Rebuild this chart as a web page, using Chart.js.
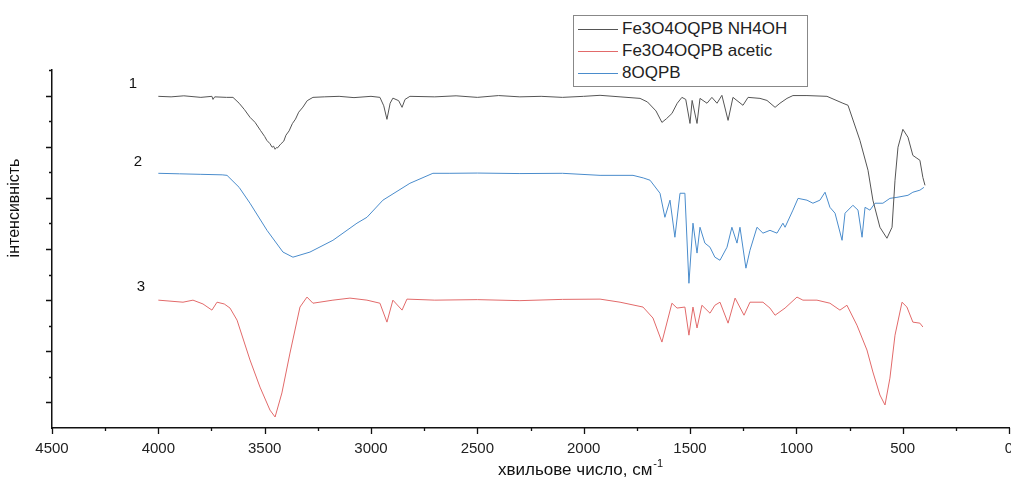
<!DOCTYPE html>
<html>
<head>
<meta charset="utf-8">
<script src="https://cdn.jsdelivr.net/npm/chart.js@4.4.1/dist/chart.umd.min.js"></script>
<style>
  body { margin: 0; background: #fff; }
  #wrap { position: relative; width: 1011px; height: 479px; }
  #legend {
    position: absolute; left: 573px; top: 15px; width: 233px; height: 70px;
    border: 1px solid #888; background: #fff;
    font-family: "Liberation Sans", Arial, sans-serif; font-size: 17px; color: #222;
  }
  .row { position: absolute; left: 0; height: 22px; line-height: 22px; white-space: nowrap; }
  .row span.ln { position: absolute; left: 4px; top: 11px; width: 40px; height: 1px; }
  .row span.tx { position: absolute; left: 48px; top: 0; }
</style>
</head>
<body>
<div id="wrap">
  <canvas id="myChart" width="1011" height="479"></canvas>
  <div id="legend"></div>
</div>
<script>
// wavenumber (cm-1) / intensity (arb. units)
var nh4ohX = [4000,3940,3880,3800,3748,3743,3735,3680,3649,3620,3595,3569,3545,3520,3500,3490,3475,3465,3458,3451,3444,3440,3425,3410,3400,3385,3370,3355,3340,3320,3300,3273,3220,3150,3080,3000,2958,2940,2925,2910,2897,2870,2854,2840,2817,2700,2600,2500,2400,2300,2200,2100,2000,1923,1829,1735,1700,1660,1632,1610,1585,1560,1538,1520,1500,1490,1467,1453,1420,1397,1373,1350,1321,1298,1251,1227,1171,1138,1100,1077,1044,1016,950,856,781,757,701,663,640,607,574,550,536,522,499,475,452,433,419,405,395];
var nh4ohY = [12.97,12.95,12.99,12.93,12.97,12.85,12.95,12.93,12.93,12.70,12.45,12.15,11.95,11.64,11.40,11.25,11.12,10.98,11.02,10.90,10.97,10.95,11.10,11.22,11.45,11.62,11.90,12.08,12.35,12.55,12.80,12.93,12.95,12.97,12.92,12.97,12.93,12.60,12.07,12.70,12.90,12.80,12.54,12.85,12.97,12.95,12.99,12.93,13.00,12.95,12.97,12.93,12.97,13.01,12.95,12.89,12.75,12.40,11.95,12.10,12.30,12.70,12.93,12.85,11.91,12.81,11.91,12.89,12.70,12.93,12.70,13.01,12.03,12.93,12.62,12.93,12.89,12.81,12.54,12.70,12.89,13.00,13.00,12.97,12.70,12.62,11.25,10.08,8.91,7.85,7.42,7.85,9.69,10.98,11.68,11.37,10.66,10.55,10.47,9.80,9.49];

var oqpbX = [4000,3900,3800,3700,3677,3620,3569,3489,3414,3367,3287,3179,3066,3019,2944,2817,2709,2629,2500,2300,2100,1923,1768,1720,1688,1641,1618,1594,1571,1547,1524,1505,1486,1467,1453,1430,1406,1383,1359,1326,1303,1279,1265,1237,1218,1185,1157,1124,1091,1063,1053,1016,992,950,922,889,865,842,818,785,771,734,710,691,677,654,630,593,560,527,475,452,419,400];
var oqpbY = [9.96,9.94,9.92,9.90,9.88,9.41,8.79,7.73,6.88,6.68,6.88,7.34,8.01,8.24,8.91,9.57,9.96,9.96,9.97,9.95,9.96,9.88,9.88,9.78,9.69,9.18,8.24,8.91,7.46,9.18,9.18,5.66,8.01,6.84,7.85,7.23,7.07,6.68,6.56,7.07,7.85,7.23,7.85,6.25,6.95,7.85,7.62,7.73,7.62,8.01,7.85,8.52,8.98,8.91,8.79,8.91,9.22,8.63,8.40,7.34,8.40,8.71,8.52,7.46,8.63,8.52,8.79,8.79,8.98,9.02,9.10,9.22,9.30,9.41];

var aceticX = [4000,3884,3837,3790,3748,3724,3690,3663,3630,3569,3522,3475,3451,3419,3381,3334,3301,3273,3179,3099,3019,2958,2925,2897,2854,2831,2700,2500,2300,2100,1923,1829,1721,1674,1632,1585,1561,1524,1505,1486,1467,1444,1406,1383,1359,1321,1288,1246,1218,1157,1124,1100,1053,997,969,903,842,795,762,715,668,640,607,583,560,536,503,480,452,419,405];
var aceticY = [5.00,4.92,5.00,4.85,4.61,4.92,4.85,4.69,4.22,2.66,1.60,0.70,0.43,1.37,2.93,4.73,5.12,4.88,5.00,5.08,5.00,4.88,4.14,5.00,4.61,5.04,5.00,5.02,4.98,5.03,5.04,4.92,4.73,4.30,3.36,4.88,4.69,4.73,3.63,4.73,3.91,4.80,4.49,4.80,4.92,4.10,5.08,4.41,4.92,4.92,4.69,4.41,4.69,5.12,5.00,5.00,4.88,4.61,4.80,4.02,3.05,2.19,1.29,0.90,1.95,3.63,4.92,4.73,4.14,4.10,3.95];

var seriesNames = ["Fe3O4OQPB NH4OH", "Fe3O4OQPB acetic", "8OQPB"];
var seriesColors = ["#555555", "#e26a6a", "#4a8ccc"];
var xTicks = [4500,4000,3500,3000,2500,2000,1500,1000,500,0];
var curveLabels = ["1", "2", "3"];

function pts(xs, ys){
  var out = [];
  for (var i = 0; i < xs.length; i++) out.push({x: xs[i], y: ys[i]});
  return out;
}

var FONT = '"Liberation Sans", Arial, sans-serif';

// tick marks, curve numbers and axis titles
var decor = {
  id: 'decor',
  afterDraw: function(chart){
    var ctx = chart.ctx, xs = chart.scales.x, ys = chart.scales.y;
    var a = chart.chartArea;
    ctx.save();
    ctx.strokeStyle = '#111';
    ctx.lineWidth = 1.3;
    ctx.beginPath();
    for (var v = 0; v <= 4500; v += 250) {
      var px = Math.round(xs.getPixelForValue(v)) + 0.5;
      var len = (v % 500 === 0) ? 6 : 3;
      ctx.moveTo(px, a.bottom); ctx.lineTo(px, a.bottom + len);
    }
    for (var k = 1; k <= 14; k++) {
      var py = Math.round(ys.getPixelForValue(k)) + 0.5;
      var l2 = (k % 2 === 1) ? 6 : 3;
      ctx.moveTo(a.left, py); ctx.lineTo(a.left - l2, py);
    }
    ctx.stroke();

    ctx.fillStyle = '#111';
    ctx.font = '15px ' + FONT;
    ctx.textAlign = 'center';
    ctx.textBaseline = 'middle';
    var lx = [4119, 4096, 4082], ly = [13.44, 10.39, 5.51];
    for (var j = 0; j < 3; j++) {
      ctx.fillText(curveLabels[j], xs.getPixelForValue(lx[j]), ys.getPixelForValue(ly[j]));
    }

    // x title
    ctx.textAlign = 'left';
    ctx.textBaseline = 'alphabetic';
    ctx.font = '17px ' + FONT;
    var t = 'хвильове число, см';
    ctx.fillText(t, 498, 475);
    var w = ctx.measureText(t).width;
    ctx.font = '11px ' + FONT;
    ctx.fillText('-1', 498 + w + 1, 467);

    // y title
    ctx.font = '16px ' + FONT;
    ctx.translate(15, 208);
    ctx.rotate(-Math.PI / 2);
    ctx.textAlign = 'center';
    ctx.textBaseline = 'middle';
    ctx.fillText('інтенсивність', 0, 0);
    ctx.restore();
  }
};

var ctx = document.getElementById('myChart').getContext('2d');
var chart = new Chart(ctx, {
  type: 'line',
  data: {
    datasets: [
      { label: seriesNames[0], data: pts(nh4ohX, nh4ohY), borderColor: seriesColors[0] },
      { label: seriesNames[1], data: pts(aceticX, aceticY), borderColor: seriesColors[1] },
      { label: seriesNames[2], data: pts(oqpbX, oqpbY), borderColor: seriesColors[2] }
    ]
  },
  options: {
    responsive: false,
    animation: false,
    layout: { padding: { top: 70, right: 2, left: 0, bottom: 0 } },
    elements: { point: { radius: 0 }, line: { borderWidth: 1, tension: 0 } },
    plugins: { legend: { display: false }, tooltip: { enabled: false } },
    scales: {
      x: {
        type: 'linear', reverse: true, min: 0, max: 4500,
        afterBuildTicks: function(s){ s.ticks = xTicks.map(function(v){ return {value: v}; }); },
        afterFit: function(s){ s.height = 51; s.paddingLeft = 0; s.paddingRight = 0; },
        grid: { display: false, drawTicks: false, tickLength: 0 },
        border: { display: true, color: '#111', width: 1.5 },
        ticks: { color: '#222', padding: 12, maxRotation: 0, autoSkip: false,
                 font: { family: FONT, size: 15 },
                 callback: function(v){ return String(v); } }
      },
      y: {
        min: 0, max: 14,
        afterFit: function(s){ s.width = 52; },
        grid: { display: false, drawTicks: false },
        border: { display: true, color: '#111', width: 1.5 },
        ticks: { display: false }
      }
    }
  },
  plugins: [decor]
});

// legend box
var leg = document.getElementById('legend');
for (var i = 0; i < seriesNames.length; i++) {
  var r = document.createElement('div');
  r.className = 'row';
  r.style.top = (2 + i * 22) + 'px';
  r.innerHTML = '<span class="ln" style="background:' + seriesColors[i] + '"></span><span class="tx">' + seriesNames[i] + '</span>';
  leg.appendChild(r);
}
</script>
</body>
</html>
